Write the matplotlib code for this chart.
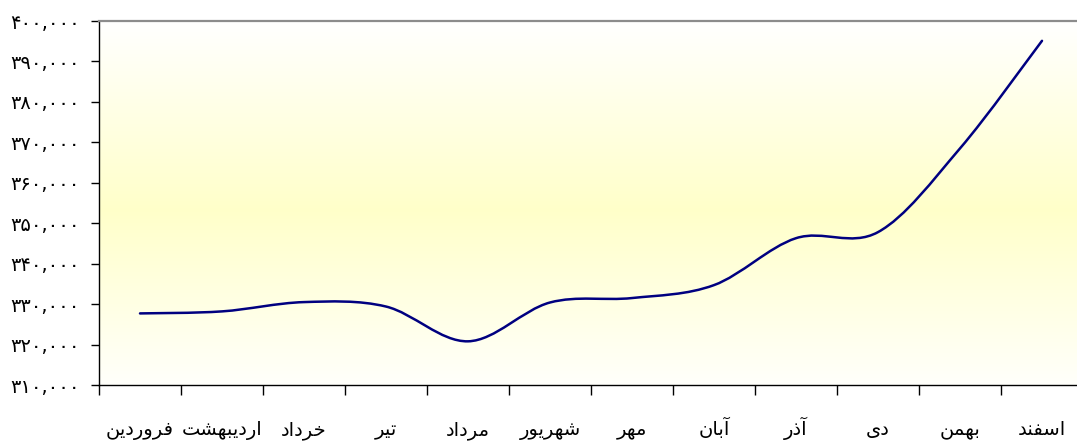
import numpy as np
import matplotlib
matplotlib.use("Agg")
import matplotlib.pyplot as plt
from matplotlib.path import Path
from matplotlib.patches import PathPatch

months = ['فروردین', 'اردیبهشت', 'خرداد', 'تیر', 'مرداد', 'شهریور',
          'مهر', 'آبان', 'آذر', 'دی', 'بهمن', 'اسفند']
values = [327700, 328200, 330500, 329400, 320800, 330400,
          331500, 334700, 346300, 347800, 368500, 395100]
y_ticks = list(range(310000, 400001, 10000))

# isolated, final, initial, medial presentation forms
FORMS = {
    'ا': ('\uFE8D', '\uFE8E', None, None),
    'آ': ('\uFE81', '\uFE82', None, None),
    'ب': ('\uFE8F', '\uFE90', '\uFE91', '\uFE92'),
    'ت': ('\uFE95', '\uFE96', '\uFE97', '\uFE98'),
    'خ': ('\uFEA5', '\uFEA6', '\uFEA7', '\uFEA8'),
    'د': ('\uFEA9', '\uFEAA', None, None),
    'ذ': ('\uFEAB', '\uFEAC', None, None),
    'ر': ('\uFEAD', '\uFEAE', None, None),
    'س': ('\uFEB1', '\uFEB2', '\uFEB3', '\uFEB4'),
    'ش': ('\uFEB5', '\uFEB6', '\uFEB7', '\uFEB8'),
    'ف': ('\uFED1', '\uFED2', '\uFED3', '\uFED4'),
    'م': ('\uFEE1', '\uFEE2', '\uFEE3', '\uFEE4'),
    'ن': ('\uFEE5', '\uFEE6', '\uFEE7', '\uFEE8'),
    'ه': ('\uFEE9', '\uFEEA', '\uFEEB', '\uFEEC'),
    'و': ('\uFEED', '\uFEEE', None, None),
    'ی': ('\uFBFC', '\uFBFD', '\uFEF3', '\uFEF4'),
}


def shape(word):
    out = []
    n = len(word)
    for i, ch in enumerate(word):
        f = FORMS[ch]
        prev_joins = i > 0 and FORMS[word[i - 1]][2] is not None
        next_joins = i < n - 1 and f[2] is not None
        if prev_joins and next_joins:
            out.append(f[3])
        elif prev_joins:
            out.append(f[1])
        elif next_joins:
            out.append(f[2])
        else:
            out.append(f[0])
    return ''.join(reversed(out))


def fa_num(v):
    return f"{v:,}".translate(str.maketrans('0123456789', '۰۱۲۳۴۵۶۷۸۹'))


fig = plt.figure(figsize=(10.77, 4.44), dpi=100)
ax = fig.add_axes([99 / 1077, 59 / 444, 984 / 1077, 364 / 444])

# background gradient: white - light yellow - white
t = np.linspace(0, 1, 256)
a = np.clip(1 - np.abs(t - 0.48) / 0.52, 0, 1)
grad = np.ones((256, 1, 3))
grad[:, 0, 2] = 1 - 0.21 * a
ax.imshow(grad, extent=[0, 1, 0, 1], transform=ax.transAxes, aspect='auto',
          origin='lower', zorder=0)

# smoothed line (Excel style bezier)
xs = np.arange(len(values), dtype=float)
ys = np.array(values, dtype=float)
verts = [(xs[0], ys[0])]
codes = [Path.MOVETO]
for i in range(len(xs) - 1):
    p0 = np.array([xs[max(i - 1, 0)], ys[max(i - 1, 0)]])
    p1 = np.array([xs[i], ys[i]])
    p2 = np.array([xs[i + 1], ys[i + 1]])
    p3 = np.array([xs[min(i + 2, len(xs) - 1)], ys[min(i + 2, len(xs) - 1)]])
    c1 = p1 + (p2 - p0) / 6
    c2 = p2 - (p3 - p1) / 6
    verts += [tuple(c1), tuple(c2), tuple(p2)]
    codes += [Path.CURVE4] * 3
ax.add_patch(PathPatch(Path(verts, codes), fill=False, edgecolor='#000080',
                       lw=1.8, zorder=3, capstyle='round', joinstyle='round'))

ax.set_xlim(-0.5, len(months) - 0.5)
ax.set_ylim(310000, 400000)

ax.set_yticks(y_ticks)
ax.set_yticklabels([fa_num(v) for v in y_ticks], fontsize=14)
ax.tick_params(axis='y', direction='out', length=6, width=1, pad=8)

ax.set_xticks(np.arange(-0.5, len(months), 1.0))
ax.set_xticklabels([])
ax.set_xticks(xs, minor=True)
ax.set_xticklabels([shape(m) for m in months], minor=True, fontsize=14,
                   va='baseline')
ax.tick_params(axis='x', which='major', direction='out', length=7, width=1)
ax.tick_params(axis='x', which='minor', length=0, pad=36)

for s in ['left', 'bottom']:
    ax.spines[s].set_color('black')
    ax.spines[s].set_linewidth(1.0)
ax.spines['top'].set_color('#8c8c8c')
ax.spines['top'].set_linewidth(1.6)
ax.spines['right'].set_visible(False)

fig.savefig('out.png', dpi=100)
